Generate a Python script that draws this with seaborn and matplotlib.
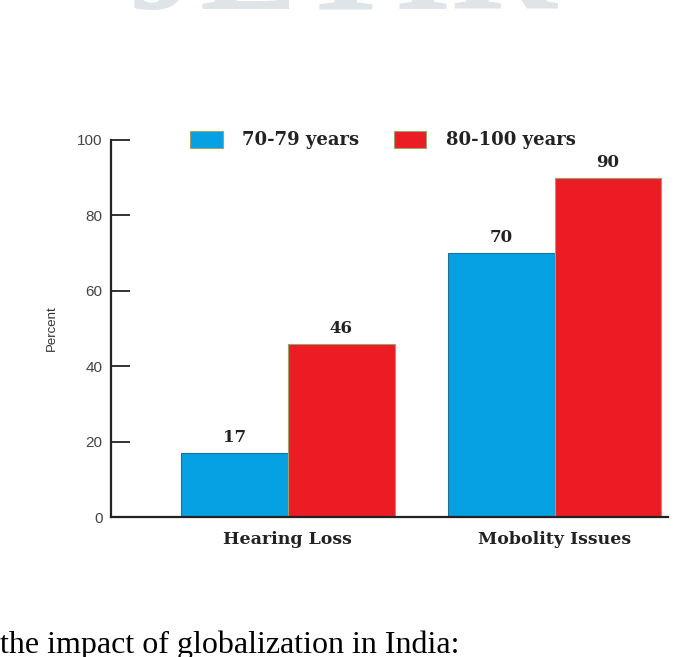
import pandas as pd
import matplotlib.pyplot as plt
import seaborn as sns

# chart data
categories = ["Hearing Loss", "Mobolity Issues"]
age_groups = ["70-79 years", "80-100 years"]
pct_70_79 = [17, 70]
pct_80_100 = [46, 90]

df = pd.DataFrame({
    "Issue": categories * 2,
    "Age": [age_groups[0]] * 2 + [age_groups[1]] * 2,
    "Percent": pct_70_79 + pct_80_100,
})

sns.set_style("white")
serif = "DejaVu Serif"
sans = "Liberation Sans"

fig = plt.figure(figsize=(6.84, 6.57), dpi=100)
ax = fig.add_axes([0.162, 0.213, 0.814, 0.574])

palette = {"70-79 years": "#05A1E3", "80-100 years": "#EC1C24"}
sns.barplot(data=df, x="Issue", y="Percent", hue="Age", palette=palette,
            width=0.8, saturation=1, ax=ax, legend=True)

# bar edges like the scan
for patch in ax.patches:
    if patch.get_facecolor()[0] > 0.5:
        patch.set_edgecolor("#9aa36a")
    else:
        patch.set_edgecolor("#1d6f9a")
    patch.set_linewidth(0.8)

for cont in ax.containers:
    ax.bar_label(cont, padding=5, fontsize=12, fontweight="bold",
                 family=serif, color="#222222")

ax.set_xlim(-0.663, 1.423)
ax.set_ylim(0, 100)
ax.set_yticks([0, 20, 40, 60, 80, 100])
ax.tick_params(axis="y", left=True, direction="in", length=14, width=1.3,
               color="#222222", labelsize=11, labelcolor="#444444", pad=6)
for lab in ax.get_yticklabels():
    lab.set_family(sans)
ax.tick_params(axis="x", length=0, pad=10)
for lab in ax.get_xticklabels():
    lab.set_family(serif)
    lab.set_fontweight("bold")
    lab.set_fontsize(12.5)
    lab.set_color("#222222")

ax.set_xlabel("")
ax.set_ylabel("Percent", fontsize=9.5, family=sans, color="#333333", labelpad=14)
sns.despine(ax=ax)
for side in ["left", "bottom"]:
    ax.spines[side].set_linewidth(1.6)
    ax.spines[side].set_color("#222222")

leg = ax.legend(loc="center", bbox_to_anchor=(0.489, 1.0), ncol=2, frameon=False,
                handlelength=1.8, handleheight=1.1, columnspacing=1.9,
                handletextpad=1.1, prop={"family": serif, "weight": "bold", "size": 13})
for h in leg.legend_handles:
    h.set_edgecolor("#9aa36a")
for t in leg.get_texts():
    t.set_color("#222222")

# page bits around the figure
fig.text(0.50, 1.04, "JETIR", ha="center", va="center", fontsize=105,
         family="Liberation Serif", fontweight="bold", color="#dfe4e8", zorder=0)
fig.text(0.0, 1 - 630 / 657, "the impact of globalization in India:", ha="left",
         va="top", fontsize=23, family="Liberation Serif", color="black")

fig.savefig("out.png", dpi=100, facecolor="white")
